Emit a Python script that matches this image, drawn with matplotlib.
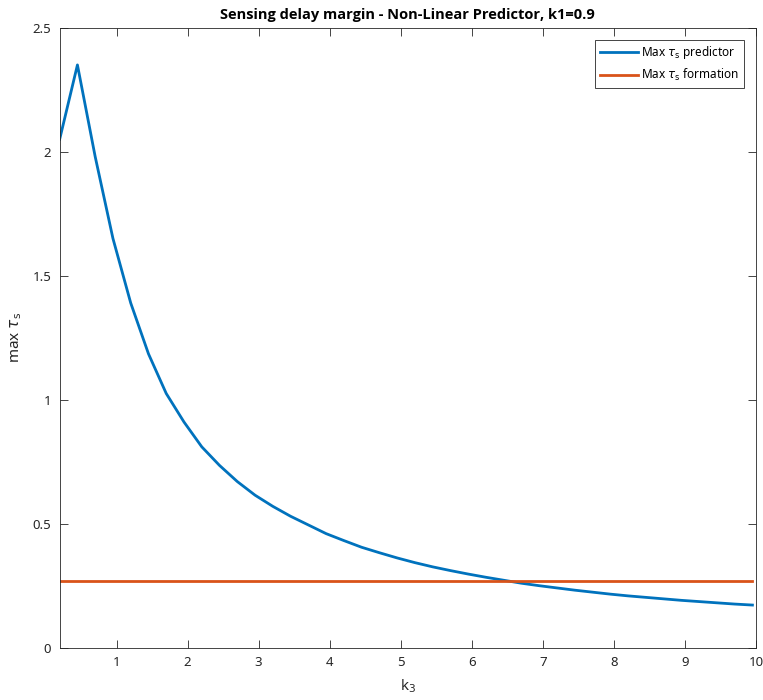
import numpy as np
import matplotlib
matplotlib.use("Agg")
import matplotlib.pyplot as plt

plt.rcParams["font.family"] = ["Noto Sans", "DejaVu Sans"]
plt.rcParams["mathtext.fontset"] = "dejavusans"

AX = "#262626"
BLUE = "#0072BD"
ORANGE = "#D95319"

# k3 grid and the sensing delay margins
k3 = np.arange(0.2, 10.0, 0.25)
tau_pred = [2.05, 2.35, 1.98, 1.65, 1.39, 1.185, 1.025, 0.91, 0.81, 0.735,
            0.67, 0.615, 0.57, 0.53, 0.495, 0.46, 0.432, 0.405, 0.383, 0.362,
            0.343, 0.326, 0.311, 0.297, 0.284, 0.272, 0.26, 0.25, 0.241, 0.232,
            0.224, 0.216, 0.209, 0.203, 0.197, 0.191, 0.186, 0.181, 0.176, 0.172]
tau_form = 0.268

fig = plt.figure(figsize=(7.63, 7.0), dpi=100)
ax = fig.add_axes([0.0782, 0.0747, 0.9126, 0.8857])

ax.plot(k3, tau_pred, color=BLUE, lw=2.0, label=r"Max $\tau_{\mathrm{s}}$ predictor")
ax.plot(k3, np.full(len(k3), tau_form), color=ORANGE, lw=2.0,
        label=r"Max $\tau_{\mathrm{s}}$ formation")

ax.set_xlim(0.2, 10)
ax.set_ylim(0, 2.5)
ax.set_xticks(range(1, 11))
ax.set_yticks([0, 0.5, 1, 1.5, 2, 2.5])
ax.set_yticklabels(["0", "0.5", "1", "1.5", "2", "2.5"])

ax.tick_params(direction="in", top=True, right=True, length=6, width=0.6,
               colors=AX, labelsize=9.5, pad=6)
for s in ax.spines.values():
    s.set_color(AX)
    s.set_linewidth(0.6)

ax.set_title("Sensing delay margin - Non-Linear Predictor, k1=0.9",
             fontsize=10.5, fontweight="bold", color="black", pad=6,
             family=["Open Sans", "DejaVu Sans"])
ax.set_xlabel(r"k$_3$", fontsize=11, color=AX, labelpad=6)
ax.set_ylabel(r"max $\tau_{\mathrm{s}}$", fontsize=11, color=AX, labelpad=6)

leg = ax.legend(loc="upper right", fontsize=8.5, frameon=True, fancybox=False,
                edgecolor=AX, framealpha=1, handlelength=3.2, borderpad=0.4,
                labelspacing=0.5, handletextpad=0.3, borderaxespad=1.0)
leg.get_frame().set_linewidth(0.6)

fig.savefig("out.png", dpi=100, facecolor="white")
